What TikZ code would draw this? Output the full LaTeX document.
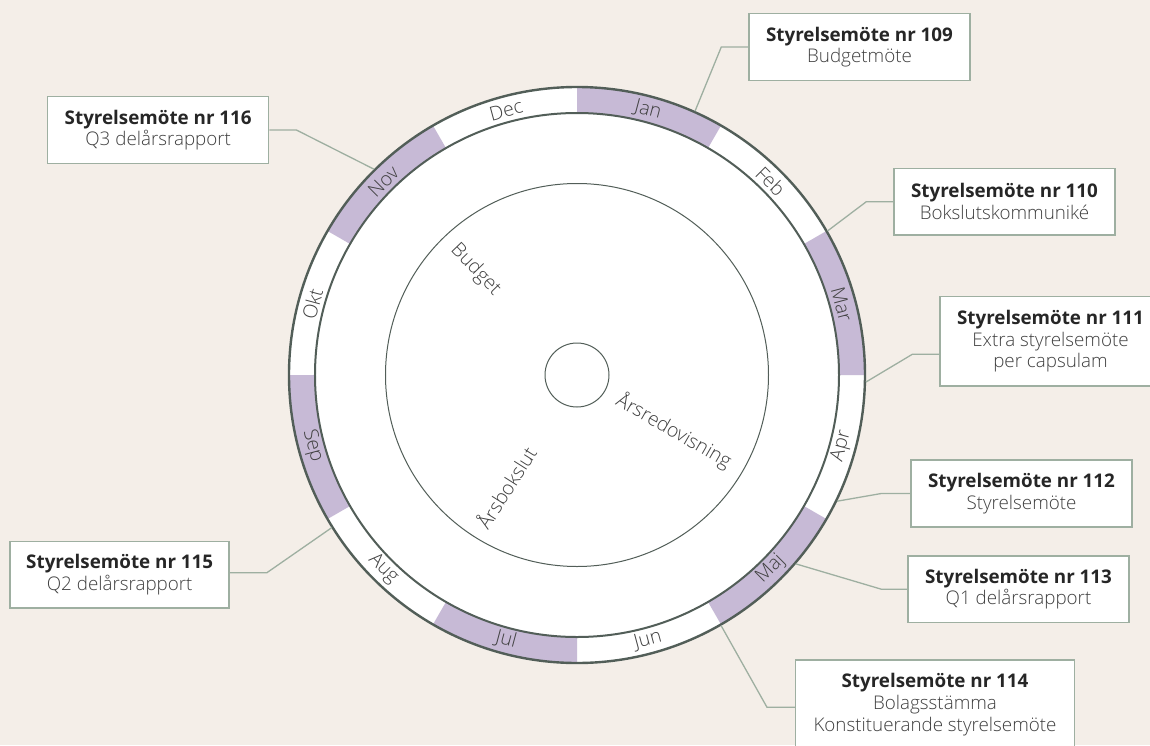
\documentclass[tikz,border=0pt]{standalone}
\usepackage{fontspec}
\setmainfont{Open Sans}[UprightFont=* Light, BoldFont=* Bold]
\definecolor{bg}{RGB}{244,238,232}
\definecolor{lila}{RGB}{199,186,214}
\definecolor{ringc}{RGB}{82,94,88}
\definecolor{sage}{RGB}{158,175,161}
\definecolor{txt}{RGB}{64,64,64}
\definecolor{dark}{RGB}{38,38,38}
\tikzstyle{rect} = [rectangle, draw=sage, line width=1.4pt, fill=white, minimum width=221pt, minimum height=66.7pt, inner sep=0pt, align=center, text=txt, font=\fontsize{18.8}{21.6}\selectfont]
\tikzstyle{conn} = [draw=sage, line width=1.3pt]
\tikzstyle{mLabel} = [text=txt, inner sep=0pt, font=\fontsize{19.5}{22}\selectfont]

\begin{document}
\begin{tikzpicture}[x=1pt,y=1pt]
        \useasboundingbox (-577,-370) rectangle (573,375);
        \fill[bg] (-577,-370) rectangle (573,375);

        % ring with months
        \fill[white] (0,0) circle[radius=288pt];
        \foreach \i in {0,2,...,10}
        {\pgfmathsetmacro\a{90-30*\i}
         \pgfmathsetmacro\b{60-30*\i}
         \fill[lila] (\a:288pt) arc[start angle=\a, end angle=\b, radius=288pt] -- (\b:262pt) arc[start angle=\b, end angle=\a, radius=262pt] -- cycle;}
        \draw[ringc, line width=2.4pt] (0,0) circle[radius=288pt];
        \draw[ringc, line width=2pt] (0,0) circle[radius=262pt];
        \draw[ringc, line width=1pt] (0,0) circle[radius=191.5pt];
        \draw[ringc, line width=1pt] (0,0) circle[radius=32pt];

        \foreach \m [count=\i] in {Jan,Feb,Mar,Apr,Maj,Jun,Jul,Aug,Sep,Okt,Nov,Dec}
        {\pgfmathsetmacro\a{105-30*\i}
         \pgfmathsetmacro\r{ifthenelse(and(\i>3,\i<10),\a+90,\a-90)}
         \node[mLabel, rotate=\r] (m\m) at (\a:274pt) {\m};}

        \node[mLabel, rotate=-46] (budget) at (134:146pt) {Budget};
        \node[mLabel, rotate=-30] (arsred) at (-30:112pt) {Årsredovisning};
        \node[mLabel, rotate=57.6] (arsbok) at (237.6:133pt) {Årsbokslut};

        % meetings
        \node[rect] (s109) at (282.5,328) {\textcolor{dark}{\textbf{Styrelsemöte nr 109}}\\Budgetmöte};
        \node[rect] (s110) at (427.5,173.3) {\textcolor{dark}{\textbf{Styrelsemöte nr 110}}\\Bokslutskommuniké};
        \node[rect, minimum height=89.3pt] (s111) at (473.5,33.7) {\textcolor{dark}{\textbf{Styrelsemöte nr 111}}\\Extra styrelsemöte\\per capsulam};
        \node[rect] (s112) at (444.5,-118.5) {\textcolor{dark}{\textbf{Styrelsemöte nr 112}}\\Styrelsemöte};
        \node[rect] (s113) at (441.5,-214.2) {\textcolor{dark}{\textbf{Styrelsemöte nr 113}}\\Q1 delårsrapport};
        \node[rect, minimum width=278.6pt, minimum height=89.3pt] (s114) at (358,-329.7) {\textcolor{dark}{\textbf{Styrelsemöte nr 114}}\\Bolagsstämma\\Konstituerande styrelsemöte};
        \node[rect, minimum width=219pt] (s115) at (-457.3,-199.7) {\textcolor{dark}{\textbf{Styrelsemöte nr 115}}\\Q2 delårsrapport};
        \node[rect] (s116) at (-418.8,245) {\textcolor{dark}{\textbf{Styrelsemöte nr 116}}\\Q3 delårsrapport};

        \foreach \n/\a/\s/\l/\d in {109/65.9/west/-27/0, 110/29.9/west/-27/0, 111/-1.4/west/-27/-13, 112/-25.9/west/-29/0, 113/-40.8/west/-26/0, 114/-60.1/west/-28/-2.6, 115/211.9/east/37/2, 116/134.6/east/27/0}
        {\coordinate (r\n) at (\a:289pt);
         \draw[conn] ([yshift=\d pt]s\n.\s) -- ++(\l,0) -- (r\n);}
\end{tikzpicture}
\end{document}
